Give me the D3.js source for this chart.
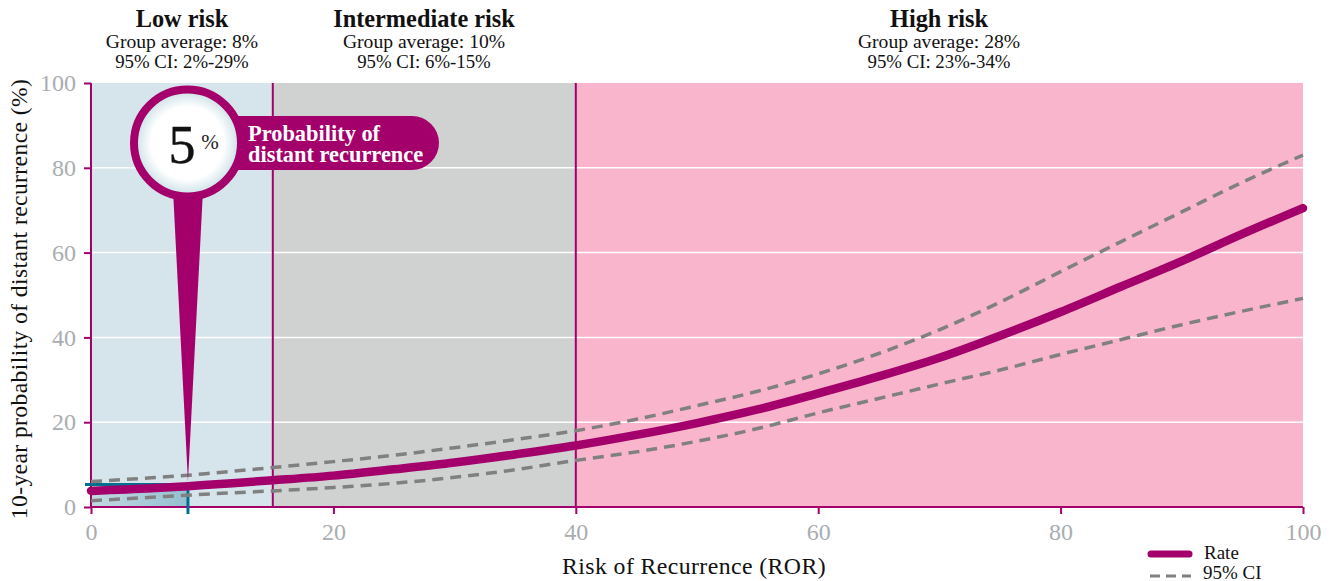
<!DOCTYPE html>
<html><head><meta charset="utf-8">
<script src="https://cdn.jsdelivr.net/npm/d3@7"></script>
<style>html,body{margin:0;padding:0;background:#fff}svg{display:block}text{font-family:"Liberation Serif",serif}</style>
</head><body><svg id="c" width="1333" height="581"></svg>
<script>
const rorValues=[0,5,8,10,15,20,25,30,35,40,45,50,55,60,65,70,75,80,85,90,95,100];
const rateValues=[3.8,4.4,4.9,5.3,6.3,7.4,8.9,10.5,12.4,14.5,17,19.8,23,26.8,30.8,35.2,40.4,46,52,58,64.4,70.5];
const upperValues=[6,6.9,7.5,8,9.3,10.7,12.2,14,15.9,18,20.7,23.9,27.3,31.4,36.2,41.8,48.3,55.5,62.6,69.6,76.6,83];
const lowerValues=[1.5,2.3,2.8,3.1,3.8,4.6,5.6,7,8.8,11,13,15.5,18.5,22.2,25.6,29,32.3,36,39.5,43,46.2,49.2];
const xTicks=[0,20,40,60,80,100];
const yTicks=[0,20,40,60,80,100];
const zoneEdges=[0,15,40,100];
const zoneColors=["#d6e4eb","#d0d1d1","#f8b5cb"];
const zoneNames=["Low risk","Intermediate risk","High risk"];
const zoneAverages=["Group average: 8%","Group average: 10%","Group average: 28%"];
const zoneCIs=["95% CI: 2%-29%","95% CI: 6%-15%","95% CI: 23%-34%"];
const patientROR=8, patientRate=5.3;
const M="#a3006b",G="#808080",T="#006f8e",L="#a9adb0";

const svg=d3.select("#c");
const x=d3.scaleLinear().domain([0,100]).range([91,1303]);
const y=d3.scaleLinear().domain([0,100]).range([507,83]);

const defs=svg.append("defs");
const rg=defs.append("radialGradient").attr("id","lens");
rg.append("stop").attr("offset","0.68").attr("stop-color","#fff");
rg.append("stop").attr("offset","0.92").attr("stop-color","#d5e6ec");
rg.append("stop").attr("offset","1").attr("stop-color","#a9cdd9");
const bg=defs.append("linearGradient").attr("id","box");
bg.append("stop").attr("offset","0").attr("stop-color","#c3d9e2");
bg.append("stop").attr("offset","1").attr("stop-color","#93c0d0");

svg.selectAll("rect.zone").data(zoneColors).join("rect").attr("class","zone")
 .attr("x",(d,i)=>x(zoneEdges[i])).attr("width",(d,i)=>x(zoneEdges[i+1])-x(zoneEdges[i]))
 .attr("y",y(100)).attr("height",y(0)-y(100)).attr("fill",d=>d);

svg.selectAll("line.grid").data(yTicks.filter(d=>d>0&&d<100)).join("line").attr("class","grid")
 .attr("x1",x(0)).attr("x2",x(100)).attr("y1",d=>y(d)).attr("y2",d=>y(d))
 .attr("stroke","#fff").attr("stroke-width",1.5);

svg.append("rect").attr("x",x(0)).attr("width",x(patientROR)-x(0)).attr("y",y(patientRate)).attr("height",y(0)-y(patientRate)).attr("fill","url(#box)");

svg.selectAll("line.div").data([15,40]).join("line").attr("class","div")
 .attr("x1",d=>x(d)).attr("x2",d=>x(d)).attr("y1",y(100)).attr("y2",y(0))
 .attr("stroke",M).attr("stroke-width",2);

const xAxis=d3.axisBottom(x).tickValues(xTicks).tickSize(7).tickPadding(9);
const yAxis=d3.axisLeft(y).tickValues(yTicks).tickSize(7).tickPadding(8);
const gx=svg.append("g").attr("transform",`translate(0,${y(0)})`).call(xAxis);
const gy=svg.append("g").attr("transform",`translate(${x(0)},0)`).call(yAxis);
[gx,gy].forEach(g=>{
 g.select(".domain").attr("stroke",M).attr("stroke-width",2).attr("d",g===gx?`M${x(0)},0H${x(100)}`:`M0,${y(100)}V${y(0)}`);
 g.selectAll(".tick line").attr("stroke",M).attr("stroke-width",2);
 g.selectAll(".tick text").attr("fill",L).attr("font-size",24).style("font-family",'"Liberation Serif",serif');
});

svg.append("line").attr("x1",x(0)-6).attr("x2",x(patientROR)).attr("y1",y(patientRate)).attr("y2",y(patientRate)).attr("stroke",T).attr("stroke-width",3);
svg.append("line").attr("x1",x(patientROR)).attr("x2",x(patientROR)).attr("y1",y(patientRate)).attr("y2",y(0)+7).attr("stroke",T).attr("stroke-width",3);

const line=d3.line().x((d,i)=>x(rorValues[i])).y(d=>y(d)).curve(d3.curveMonotoneX);
[upperValues,lowerValues].forEach(v=>svg.append("path").attr("d",line(v)).attr("fill","none").attr("stroke",G).attr("stroke-width",3.5).attr("stroke-dasharray","11 7"));
svg.append("path").attr("d",line(rateValues)).attr("fill","none").attr("stroke",M).attr("stroke-width",8.5).attr("stroke-linecap","round");

const cx=187.5,cy=143;
svg.append("path").attr("d",`M173,190L${x(patientROR)},${y(patientRate)-3}L203,190Z`).attr("fill",M);
svg.append("path").attr("d","M215,116H412A27,27 0 0 1 412,170H215Z").attr("fill",M);
svg.append("circle").attr("cx",cx).attr("cy",cy).attr("r",53.5).attr("fill","url(#lens)").attr("stroke",M).attr("stroke-width",8);
svg.append("text").attr("x",182).attr("y",163).attr("text-anchor","middle").attr("font-size",54).attr("stroke","#111").attr("stroke-width",0.4).attr("fill","#111").text("5");
svg.append("text").attr("x",210).attr("y",149).attr("text-anchor","middle").attr("font-size",21).attr("fill","#222").text("%");
svg.append("text").attr("x",248).attr("y",141).attr("font-size",22.4).attr("font-weight","bold").attr("fill","#fff").text("Probability of");
svg.append("text").attr("x",248).attr("y",162).attr("font-size",22.4).attr("font-weight","bold").attr("fill","#fff").text("distant recurrence");

zoneNames.forEach((n,i)=>{
 const g=svg.append("g").attr("text-anchor","middle").attr("fill","#111");
 const px=[182,424,939][i];
 g.append("text").attr("x",px).attr("y",27).attr("font-size",24.3).attr("font-weight","bold").text(n);
 g.append("text").attr("x",px).attr("y",48).attr("font-size",19.6).text(zoneAverages[i]);
 g.append("text").attr("x",px).attr("y",68).attr("font-size",18.8).text(zoneCIs[i]);
});

svg.append("text").attr("x",694).attr("y",574).attr("text-anchor","middle").attr("font-size",23.8).attr("fill","#111").attr("letter-spacing",0.4).text("Risk of Recurrence (ROR)");
svg.append("text").attr("transform","translate(27,299) rotate(-90)").attr("text-anchor","middle").attr("font-size",23.6).attr("fill","#111").attr("letter-spacing",0.4).text("10-year probability of distant recurrence (%)");

svg.append("line").attr("x1",1151).attr("x2",1189).attr("y1",554).attr("y2",554).attr("stroke",M).attr("stroke-width",7).attr("stroke-linecap","round");
svg.append("line").attr("x1",1150).attr("x2",1191).attr("y1",576).attr("y2",576).attr("stroke",G).attr("stroke-width",3).attr("stroke-dasharray","10 6");
svg.append("text").attr("x",1204).attr("y",559).attr("font-size",19).attr("fill","#111").text("Rate");
svg.append("text").attr("x",1203).attr("y",578.5).attr("font-size",19).attr("fill","#111").text("95% CI");
</script></body></html>
